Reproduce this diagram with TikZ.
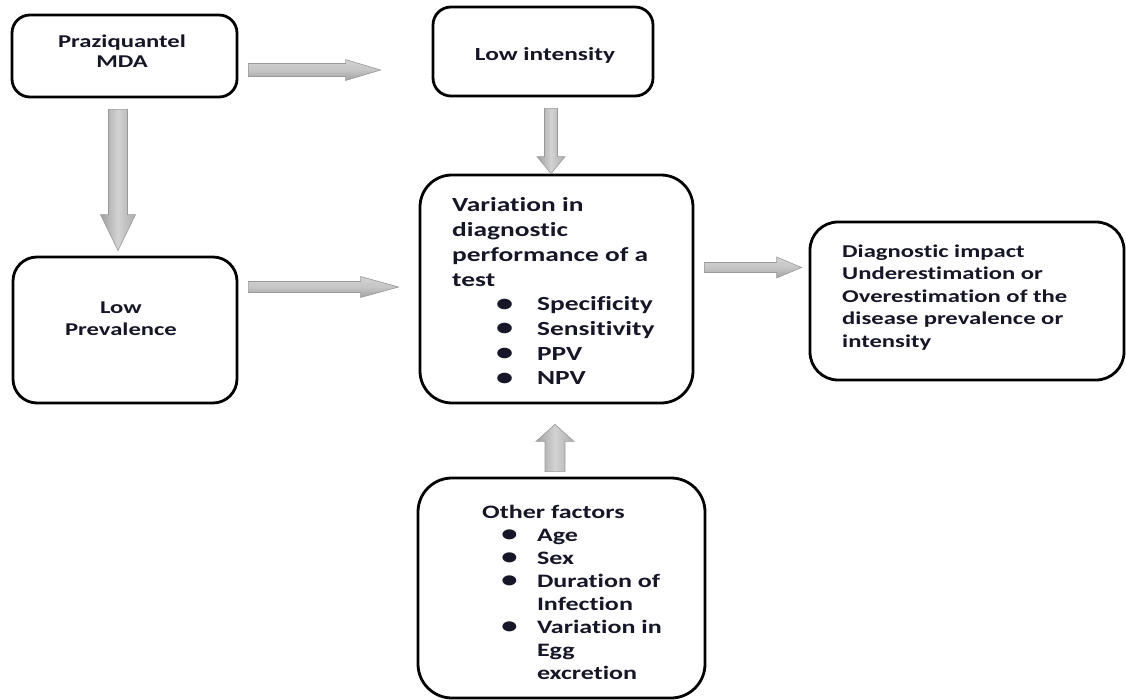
\documentclass[tikz,border=0pt]{standalone}
\usepackage{fontspec}
\setmainfont{Carlito}[Ligatures=NoCommon]
\usetikzlibrary{calc}
\definecolor{txt}{RGB}{22,22,40}
\newcommand{\sx}[1]{\scalebox{1.37}[1]{#1}}
\newcommand{\bul}[2]{\makebox[#1][l]{\hspace{#2}\raisebox{-0.5pt}{\scalebox{1.25}{\textbullet}}}}
\begin{document}
\begin{tikzpicture}[x=1pt,y=-1pt,
  box/.style={draw=black,line width=2.8pt,fill=white,inner sep=0pt},
  txtnode/.style={inner sep=0pt,text=txt,font=\bfseries},
  harr/.style={draw=gray!80,line width=0.6pt,top color=gray!35,bottom color=gray!75,middle color=gray!45},
  varr/.style={draw=gray!80,line width=0.6pt,left color=gray!75,right color=gray!65,middle color=gray!35}]
\useasboundingbox (0,0) rectangle (1126,700);
% boxes
\node[box,rounded corners=18pt,minimum width=225pt,minimum height=82pt] (mda) at (124.5,56) {};
\node[box,rounded corners=18pt,minimum width=220pt,minimum height=89pt] (lowint) at (543,51.5) {};
\node[box,rounded corners=24pt,minimum width=224pt,minimum height=146pt] (lowprev) at (125,330) {};
\node[box,rounded corners=32pt,minimum width=273pt,minimum height=228pt] (var) at (556.5,289) {};
\node[box,rounded corners=28pt,minimum width=314pt,minimum height=158pt] (diag) at (967,301) {};
\node[box,rounded corners=34pt,minimum width=287pt,minimum height=220pt] (other) at (561.5,588) {};
% texts
\node[txtnode,anchor=north] (mdaT) at (122,32.5) {\sx{\fontsize{18}{20.5}\selectfont\begin{tabular}{@{}c@{}}Praziquantel\\MDA\end{tabular}}};
\node[txtnode,anchor=base] (lowintT) at (545,60.5) {\sx{\fontsize{18.5}{22}\selectfont Low intensity}};
\node[txtnode,anchor=north] (lowprevT) at (121,298) {\sx{\fontsize{18}{22}\selectfont\begin{tabular}{@{}c@{}}Low\\Prevalence\end{tabular}}};
\node[txtnode,anchor=north west] (varT) at (452,194.5) {\sx{\fontsize{20}{24.7}\selectfont\begin{tabular}{@{}l@{}}Variation in\\diagnostic\\performance of a\\test\\
\bul{62pt}{32pt}Specificity\\\bul{62pt}{32pt}Sensitivity\\\bul{62pt}{32pt}PPV\\\bul{62pt}{32pt}NPV\end{tabular}}};
\node[txtnode,anchor=north west] (diagT) at (842,241.5) {\sx{\fontsize{18}{22.5}\selectfont\begin{tabular}{@{}l@{}}Diagnostic impact\\Underestimation or\\Overestimation of the\\disease prevalence or\\intensity\end{tabular}}};
\node[txtnode,anchor=north west] (otherT) at (482,502) {\sx{\fontsize{19}{23}\selectfont\begin{tabular}{@{}l@{}}Other factors\\
\bul{40pt}{14pt}Age\\\bul{40pt}{14pt}Sex\\\bul{40pt}{14pt}Duration of\\\hspace{40pt}Infection\\\bul{40pt}{14pt}Variation in\\\hspace{40pt}Egg\\\hspace{40pt}excretion\end{tabular}}};
% arrow end points
\coordinate (a1s) at ($(mda.east)+(10,14)$);
\coordinate (a1e) at ($(lowint.west)+(-51,18.5)$);
\coordinate (a2s) at ($(mda.south)+(-6.5,11)$);
\coordinate (a2e) at ($(lowprev.north)+(-7,-5)$);
\coordinate (a3s) at ($(lowint.south)+(8,11)$);
\coordinate (a3e) at ($(var.north)+(-5.5,0)$);
\coordinate (a4s) at ($(lowprev.east)+(10,-43)$);
\coordinate (a4e) at ($(var.west)+(-20,-2)$);
\coordinate (a5s) at ($(var.east)+(10,-21.5)$);
\coordinate (a5e) at ($(diag.west)+(-7,-33.5)$);
\coordinate (a6s) at ($(other.north)+(-6.5,-5)$);
\coordinate (a6e) at ($(var.south)+(-1.5,20)$);
% block arrows: horizontal
\path[harr] let \p1=(a1s),\p2=(a1e) in (\x1,\y1+6.5) -- (\x2-35,\y1+6.5) -- (\x2-35,\y1+10.5) -- (\x2,\y1) -- (\x2-35,\y1-10.5) -- (\x2-35,\y1-6.5) -- (\x1,\y1-6.5) -- cycle;
\path[harr] let \p1=(a4s),\p2=(a4e) in (\x1,\y1+5.5) -- (\x2-38,\y1+5.5) -- (\x2-38,\y1+10.5) -- (\x2,\y1) -- (\x2-38,\y1-10.5) -- (\x2-38,\y1-5.5) -- (\x1,\y1-5.5) -- cycle;
\path[harr] let \p1=(a5s),\p2=(a5e) in (\x1,\y1+5) -- (\x2-25,\y1+5) -- (\x2-25,\y1+10.5) -- (\x2,\y1) -- (\x2-25,\y1-10.5) -- (\x2-25,\y1-5) -- (\x1,\y1-5) -- cycle;
% vertical
\path[varr] let \p1=(a2s),\p2=(a2e) in (\x1-9.5,\y1) -- (\x1-9.5,\y2+36) -- (\x1-17.5,\y2+36) -- (\x1,\y2) -- (\x1+17.5,\y2+36) -- (\x1+9.5,\y2+36) -- (\x1+9.5,\y1) -- cycle;
\path[varr] let \p1=(a3s),\p2=(a3e) in (\x1-6.5,\y1) -- (\x1-6.5,\y2+17) -- (\x1-14,\y2+17) -- (\x1,\y2) -- (\x1+14,\y2+17) -- (\x1+6.5,\y2+17) -- (\x1+6.5,\y1) -- cycle;
\path[varr] let \p1=(a6s),\p2=(a6e) in (\x1-10,\y1) -- (\x1-10,\y2-17) -- (\x1-19,\y2-17) -- (\x1,\y2) -- (\x1+19,\y2-17) -- (\x1+10,\y2-17) -- (\x1+10,\y1) -- cycle;
\end{tikzpicture}
\end{document}
